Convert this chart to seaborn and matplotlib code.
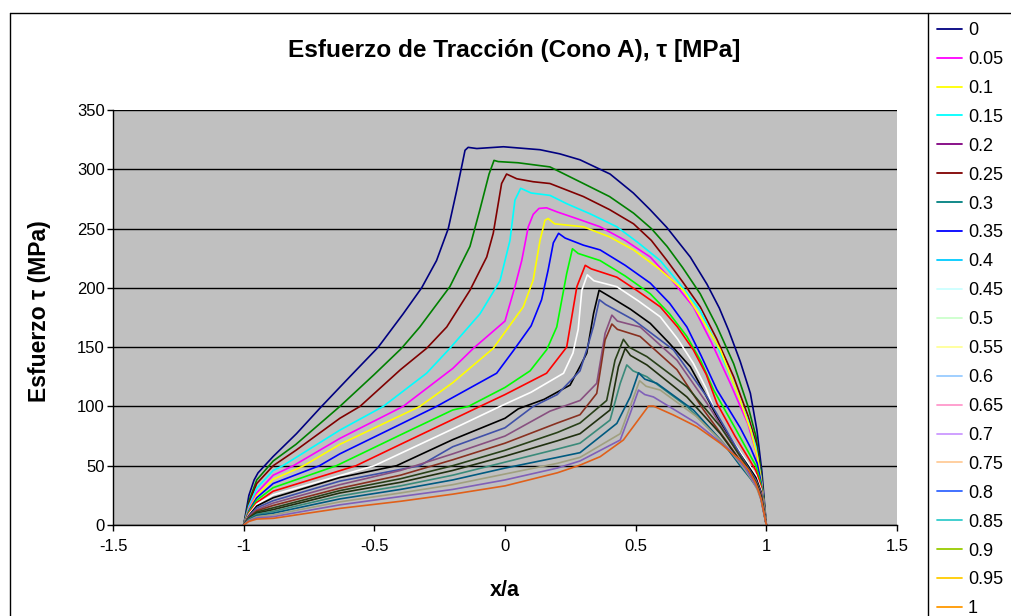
import matplotlib

matplotlib.use("Agg")

import matplotlib.pyplot as plt
from matplotlib.lines import Line2D
import pandas as pd
import seaborn as sns

# (x/a, tau [MPa]) points
tau_000 = [(-1, 0), (-0.98, 25), (-0.96, 38), (-0.945, 44), (-0.888, 57.6), (-0.798, 77), (-0.702, 100),
           (-0.594, 125), (-0.485, 150), (-0.39, 178), (-0.319, 200), (-0.262, 223), (-0.217, 250),
           (-0.185, 282), (-0.166, 302), (-0.153, 316), (-0.141, 318.5), (-0.108, 317.5), (-0.006, 319),
           (0.134, 316.5), (0.21, 313), (0.287, 308), (0.402, 296), (0.491, 280), (0.555, 266), (0.619, 251),
           (0.709, 226), (0.773, 203), (0.82, 183), (0.856, 164), (0.9, 138), (0.939, 111), (0.964, 80),
           (0.983, 45), (1, 0)]
tau_005 = [(-1, 0), (-0.98, 20), (-0.95, 38), (-0.887, 54), (-0.8, 68), (-0.632, 100), (-0.5, 127),
           (-0.396, 149), (-0.326, 167), (-0.211, 201), (-0.134, 235), (-0.096, 266), (-0.061, 296),
           (-0.042, 307.5), (-0.026, 306.5), (0.05, 305.5), (0.172, 302), (0.3, 288), (0.4, 277),
           (0.492, 263), (0.56, 250), (0.62, 235), (0.68, 217), (0.747, 195), (0.81, 168), (0.875, 136),
           (0.93, 100), (0.96, 75), (0.98, 45), (1, 0)]
tau_010 = [(-1, 0), (-0.98, 18), (-0.95, 35), (-0.887, 50), (-0.8, 63), (-0.632, 90), (-0.555, 100),
           (-0.4, 131), (-0.3, 149), (-0.223, 167), (-0.134, 198), (-0.07, 226), (-0.045, 246),
           (-0.013, 288), (0.006, 296), (0.045, 292), (0.108, 289.5), (0.172, 288), (0.3, 277), (0.4, 266),
           (0.492, 254), (0.56, 240), (0.62, 223), (0.68, 205), (0.747, 184), (0.81, 157), (0.875, 125),
           (0.93, 92), (0.96, 70), (0.98, 42), (1, 0)]
tau_015 = [(-1, 0), (-0.98, 16), (-0.95, 31), (-0.887, 46), (-0.85, 50), (-0.632, 80), (-0.466, 100),
           (-0.3, 128), (-0.211, 149), (-0.096, 178), (-0.019, 206), (0.019, 240), (0.038, 274),
           (0.06, 284), (0.1, 280), (0.172, 278), (0.236, 271), (0.33, 262), (0.428, 251.5), (0.51, 238),
           (0.594, 223), (0.67, 203), (0.747, 181), (0.81, 152), (0.875, 119), (0.93, 88), (0.96, 66),
           (0.98, 40), (1, 0)]
tau_020 = [(-1, 0), (-0.98, 14), (-0.95, 27), (-0.887, 42), (-0.81, 50), (-0.632, 73), (-0.39, 100),
           (-0.2, 132), (-0.121, 149), (0, 172), (0.038, 201), (0.064, 223), (0.089, 251.5), (0.108, 262),
           (0.13, 267), (0.159, 267.5), (0.2, 264), (0.28, 258), (0.364, 251.5), (0.46, 240), (0.556, 226),
           (0.64, 206), (0.721, 184), (0.79, 154), (0.862, 119.5), (0.93, 85), (0.96, 62), (0.98, 38), (1, 0)]
tau_025 = [(-1, 0), (-0.98, 13), (-0.95, 25), (-0.887, 38.5), (-0.77, 50), (-0.632, 68), (-0.326, 100),
           (-0.2, 120), (-0.045, 149), (0.07, 184), (0.108, 206.6), (0.134, 240), (0.153, 257),
           (0.165, 258.5), (0.19, 254), (0.3, 251.5), (0.4, 243), (0.492, 232), (0.59, 216), (0.683, 198),
           (0.75, 175), (0.824, 147.6), (0.9, 105), (0.94, 80), (0.965, 58), (0.98, 38), (1, 0)]
tau_030 = [(-1, 0), (-0.98, 12), (-0.95, 23), (-0.887, 35), (-0.71, 50), (-0.632, 60), (-0.4, 85),
           (-0.262, 100), (-0.032, 128), (0.032, 147), (0.1, 168), (0.14, 190), (0.165, 215),
           (0.185, 238), (0.205, 246), (0.23, 242), (0.3, 236), (0.364, 232), (0.46, 219), (0.556, 204),
           (0.63, 187), (0.696, 167), (0.75, 143), (0.811, 114), (0.9, 82), (0.94, 65), (0.965, 52),
           (0.98, 36), (1, 0)]
tau_035 = [(-1, 0), (-0.98, 11), (-0.95, 21), (-0.887, 31.5), (-0.645, 50), (-0.4, 76), (-0.2, 97),
           (-0.14, 100), (0, 116), (0.096, 130), (0.16, 148), (0.198, 167), (0.236, 212), (0.258, 233),
           (0.28, 229), (0.364, 223), (0.46, 210), (0.556, 195), (0.63, 178), (0.696, 159), (0.75, 138),
           (0.798, 114), (0.88, 82), (0.93, 62), (0.96, 50), (0.98, 34), (1, 0)]
tau_040 = [(-1, 0), (-0.98, 10), (-0.95, 19), (-0.887, 28.5), (-0.57, 50), (-0.4, 68), (-0.2, 89),
           (-0.096, 100), (0, 110), (0.159, 128), (0.236, 150), (0.249, 167), (0.275, 201), (0.307, 219),
           (0.33, 216), (0.428, 209), (0.51, 197), (0.594, 184), (0.66, 167), (0.721, 147.6), (0.77, 127),
           (0.811, 102.6), (0.88, 75), (0.93, 57), (0.96, 46), (0.98, 32), (1, 0)]
tau_045 = [(-1, 0), (-0.98, 9), (-0.95, 17.5), (-0.887, 25.5), (-0.5, 50), (-0.2, 81), (-0.019, 100),
           (0.1, 112), (0.224, 128), (0.26, 145), (0.28, 165), (0.294, 198), (0.315, 211), (0.34, 206),
           (0.428, 201), (0.51, 189), (0.594, 175.6), (0.66, 157), (0.721, 136.3), (0.77, 115),
           (0.811, 91.3), (0.88, 68), (0.93, 52), (0.96, 42), (0.98, 30), (1, 0)]
tau_050 = [(-1, 0), (-0.98, 8), (-0.95, 16), (-0.887, 23), (-0.632, 40), (-0.415, 50), (-0.2, 72),
           (0, 90), (0.051, 98), (0.15, 106), (0.249, 118), (0.29, 135), (0.313, 145), (0.339, 178.5),
           (0.36, 198), (0.402, 192.5), (0.48, 182), (0.556, 170), (0.63, 153), (0.709, 133.5), (0.76, 113),
           (0.811, 91.3), (0.88, 66), (0.93, 50), (0.96, 40), (0.98, 28), (1, 0)]
tau_055 = [(-1, 0), (-0.98, 7.5), (-0.95, 14.5), (-0.887, 20.5), (-0.632, 37), (-0.326, 50), (-0.2, 66),
           (0, 82), (0.108, 100), (0.2, 110), (0.287, 130), (0.313, 148), (0.339, 168), (0.361, 190),
           (0.385, 186), (0.492, 173), (0.645, 147.6), (0.773, 108), (0.86, 75), (0.92, 52),
           (0.96, 38), (0.98, 27), (1, 0)]
tau_060 = [(-1, 0), (-0.98, 7), (-0.95, 13), (-0.887, 18.5), (-0.632, 34), (-0.4, 46), (-0.2, 60),
           (0, 75), (0.172, 96), (0.287, 105), (0.351, 119.5), (0.383, 161.6), (0.409, 177), (0.43, 172),
           (0.517, 167), (0.658, 139), (0.773, 102.6), (0.86, 72), (0.92, 50), (0.96, 37), (0.98, 26), (1, 0)]
tau_065 = [(-1, 0), (-0.98, 6.5), (-0.95, 12), (-0.887, 16.5), (-0.632, 31), (-0.4, 42), (-0.2, 55),
           (0, 69), (0.2, 86), (0.287, 93), (0.351, 111), (0.383, 156), (0.409, 169.5), (0.43, 165),
           (0.517, 159), (0.658, 131), (0.76, 97), (0.85, 70), (0.92, 48), (0.96, 36), (0.98, 25), (1, 0)]
tau_070 = [(-1, 0), (-0.98, 6), (-0.95, 11), (-0.887, 14.5), (-0.632, 29), (-0.4, 39), (-0.2, 50),
           (0, 63), (0.2, 78), (0.287, 86), (0.389, 105), (0.421, 139), (0.453, 156.6), (0.475, 150),
           (0.543, 142), (0.696, 116.6), (0.824, 83), (0.9, 58), (0.94, 44), (0.965, 34), (0.98, 24), (1, 0)]
tau_075 = [(-1, 0), (-0.98, 5.5), (-0.95, 10), (-0.887, 13), (-0.632, 27), (-0.4, 36), (-0.2, 46),
           (0, 58), (0.2, 71), (0.287, 77), (0.402, 97), (0.434, 133.5), (0.46, 149), (0.48, 143),
           (0.543, 135), (0.696, 108), (0.824, 77), (0.9, 54), (0.94, 42), (0.965, 33), (0.98, 23), (1, 0)]
tau_080 = [(-1, 0), (-0.98, 5), (-0.95, 9), (-0.887, 11.5), (-0.632, 24.5), (-0.4, 33), (-0.2, 42),
           (0, 53), (0.2, 64), (0.287, 69), (0.402, 88.5), (0.441, 119.5), (0.466, 135), (0.49, 130),
           (0.543, 125), (0.696, 100), (0.824, 71.7), (0.9, 51), (0.94, 40), (0.965, 32), (0.98, 22), (1, 0)]
tau_085 = [(-1, 0), (-0.98, 4.5), (-0.95, 8), (-0.887, 10), (-0.632, 22), (-0.4, 30), (-0.2, 38),
           (0, 48), (0.2, 57), (0.287, 61), (0.428, 85.7), (0.479, 108), (0.511, 128.4), (0.535, 123),
           (0.581, 119.5), (0.721, 97), (0.836, 69), (0.9, 50), (0.94, 39), (0.965, 31), (0.98, 22), (1, 0)]
tau_090 = [(-1, 0), (-0.98, 4), (-0.95, 7), (-0.887, 8.5), (-0.632, 19.5), (-0.4, 27), (-0.2, 34),
           (0, 43), (0.2, 52), (0.287, 57), (0.441, 77), (0.479, 100), (0.515, 121.7), (0.54, 117),
           (0.594, 113.8), (0.734, 91.3), (0.849, 66), (0.91, 49), (0.945, 38), (0.965, 30), (0.98, 21), (1, 0)]
tau_095 = [(-1, 0), (-0.98, 3.5), (-0.95, 6), (-0.887, 7), (-0.632, 17), (-0.4, 24), (-0.2, 30),
           (0, 38), (0.2, 48), (0.287, 54), (0.441, 71.7), (0.479, 94), (0.511, 113.8), (0.535, 110),
           (0.568, 108), (0.734, 85.7), (0.862, 63), (0.92, 48), (0.95, 37), (0.97, 29), (0.98, 21), (1, 0)]
tau_100 = [(-1, 0), (-0.98, 3), (-0.95, 5), (-0.887, 5.6), (-0.632, 14), (-0.4, 20), (-0.2, 26),
           (0, 33), (0.2, 44), (0.287, 50.5), (0.364, 57.6), (0.453, 71.7), (0.491, 83), (0.549, 100.3),
           (0.568, 100.3), (0.645, 92.7), (0.734, 82.9), (0.824, 68.9), (0.9, 54.8), (0.932, 46.4),
           (0.96, 35), (0.98, 22), (1, 0)]

series = [tau_000, tau_005, tau_010, tau_015, tau_020, tau_025, tau_030, tau_035, tau_040, tau_045,
          tau_050, tau_055, tau_060, tau_065, tau_070, tau_075, tau_080, tau_085, tau_090, tau_095, tau_100]
series_labels = ["0", "0.05", "0.1", "0.15", "0.2", "0.25", "0.3", "0.35", "0.4", "0.45", "0.5",
                 "0.55", "0.6", "0.65", "0.7", "0.75", "0.8", "0.85", "0.9", "0.95", "1"]

# colours of the drawn curves (they differ from the legend swatches in the original)
line_colors = ["#000080", "#008000", "#800000", "#00FFFF", "#FF00FF", "#FFFF00", "#0000FF", "#00FF00",
               "#FF0000", "#FFFFFF", "#000000", "#4050A8", "#885080", "#883020", "#284018", "#203010",
               "#3A8A7A", "#005A80", "#A0A080", "#8060B8", "#E0601A"]
legend_colors = ["#000080", "#FF00FF", "#FFFF00", "#00FFFF", "#800080", "#800000", "#008080", "#0000FF",
                 "#00CCFF", "#CCFFFF", "#CCFFCC", "#FFFF99", "#99CCFF", "#FF99CC", "#CC99FF", "#FFCC99",
                 "#3366FF", "#33CCCC", "#99CC00", "#FFCC00", "#FF9900"]

y_ticks = [0, 50, 100, 150, 200, 250, 300, 350]
x_ticks = [-1.5, -1, -0.5, 0, 0.5, 1, 1.5]
x_tick_labels = ["-1.5", "-1", "-0.5", "0", "0.5", "1", "1.5"]

rows = []
for label, pts in zip(series_labels, series):
    for i, (x, y) in enumerate(pts):
        rows.append({"serie": label, "orden": i, "x": x, "tau": y})
df = pd.DataFrame(rows)

sns.set_theme(style="ticks")
plt.rcParams["font.family"] = ["Liberation Sans", "DejaVu Sans"]
plt.rcParams["text.color"] = "black"

W, H = 1011, 616
fig = plt.figure(figsize=(W / 100, H / 100), dpi=100)
fig.patch.set_facecolor("white")
ax = fig.add_axes([113 / W, 1 - 525 / H, (897 - 113) / W, (525 - 110) / H])
ax.set_facecolor("#C0C0C0")

sns.lineplot(data=df, x="x", y="tau", hue="serie", hue_order=series_labels,
             palette=dict(zip(series_labels, line_colors)), estimator=None, sort=False,
             linewidth=1.2, legend=False, ax=ax)

ax.set_xlim(-1.5, 1.5)
ax.set_ylim(0, 350)
ax.set_xticks(x_ticks)
ax.set_xticklabels(x_tick_labels)
ax.set_yticks(y_ticks)
ax.set_xlabel("")
ax.set_ylabel("")
ax.yaxis.grid(True, color="black", linewidth=1)
ax.xaxis.grid(False)
ax.set_axisbelow(True)
for side in ["top", "right"]:
    ax.spines[side].set_visible(False)
for side in ["left", "bottom"]:
    ax.spines[side].set_color("black")
    ax.spines[side].set_linewidth(1)
ax.tick_params(axis="both", direction="out", length=4, width=1, color="black", labelsize=12,
               labelcolor="black")
ax.tick_params(axis="x", pad=6)
ax.tick_params(axis="y", pad=2)

fig.text(514 / W, 1 - 50 / H, "Esfuerzo de Tracción (Cono A), τ [MPa]", ha="center", va="center",
         fontsize=17.6, fontweight="bold", color="black")
fig.text(40 / W, 1 - 311 / H, "Esfuerzo τ (MPa)", ha="center", va="center", rotation=90,
         fontsize=16.5, fontweight="bold", color="black")
fig.text(505 / W, 1 - 590 / H, "x/a", ha="center", va="center", fontsize=15.5, fontweight="bold",
         color="black")

# chart frame (cropped at the right and bottom in the original)
fig.add_artist(Line2D([10 / W, 10 / W], [0, 1 - 13 / H], transform=fig.transFigure, color="black", lw=1))
fig.add_artist(Line2D([10 / W, 928 / W], [1 - 13 / H, 1 - 13 / H], transform=fig.transFigure,
                      color="black", lw=1))

handles = [Line2D([], [], color=c, lw=1.3) for c in legend_colors]
leg = fig.legend(handles, series_labels, loc="upper left", bbox_to_anchor=(928 / W, 1 - 13 / H),
                 bbox_transform=fig.transFigure, frameon=True, fancybox=False, edgecolor="black",
                 framealpha=1, borderaxespad=0, borderpad=0.5, fontsize=13, handlelength=1.39,
                 handletextpad=0.33, labelspacing=0.66)
leg.get_frame().set_linewidth(1)
for t in leg.get_texts():
    t.set_color("black")

fig.savefig("out.png", dpi=100)
